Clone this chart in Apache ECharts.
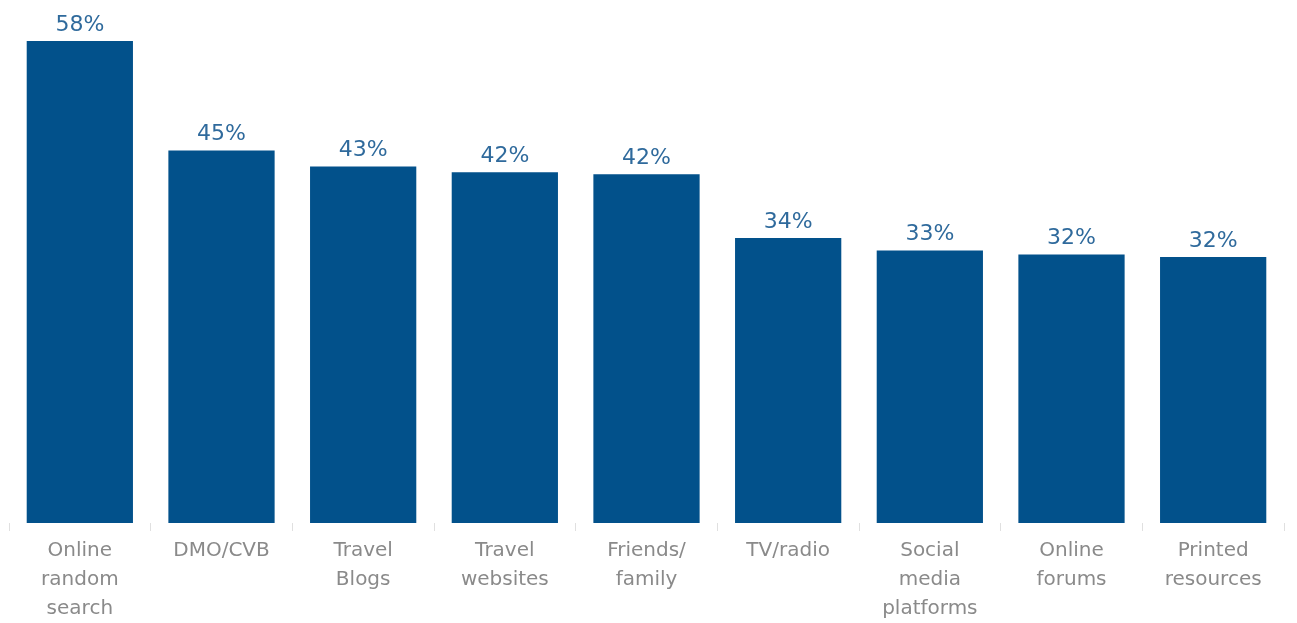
<!DOCTYPE html>
<html><head><meta charset="utf-8">
<script src="https://cdn.jsdelivr.net/npm/echarts@6/dist/echarts.min.js"></script>
<style>html,body{margin:0;padding:0;background:#fff}#c{width:1297px;height:623px}</style>
</head><body><div id="c"></div>
<script>
const categories = ["Online\nrandom\nsearch","DMO/CVB","Travel\nBlogs","Travel\nwebsites","Friends/\nfamily","TV/radio","Social\nmedia\nplatforms","Online\nforums","Printed\nresources"];
const values = [58.2, 44.97, 43.05, 42.33, 42.09, 34.4, 32.9, 32.4, 32.1];

const chart = echarts.init(document.getElementById('c'));
chart.setOption({
  animation:false,
  grid:{left:9,right:13,top:26,bottom:98,containLabel:false},
  xAxis:{type:'category',data:categories,
    axisLine:{show:false},
    axisTick:{show:true,length:8,lineStyle:{color:'#e0e0e0',width:1}},
    axisLabel:{color:'#8a8a8a',fontSize:20,fontFamily:'DejaVu Sans',lineHeight:29,margin:13,interval:0}
  },
  yAxis:{type:'value',min:0,max:60,show:false,splitLine:{show:false}},
  series:[{type:'bar',data:values,barCategoryGap:'25%',
    itemStyle:{color:'#02518b'},
    label:{show:true,position:'top',distance:5,color:'#2f6a9c',fontSize:22,fontFamily:'DejaVu Sans',
      formatter:p=>Math.round(p.value)+'%'}
  }]
});
</script></body></html>
